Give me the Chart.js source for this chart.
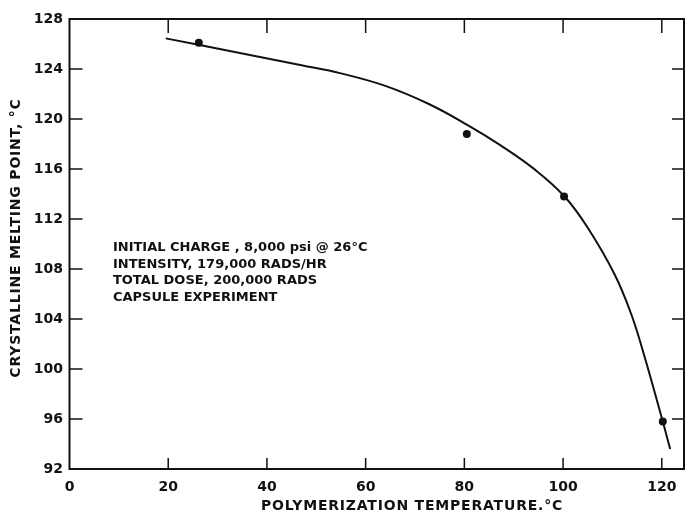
<!DOCTYPE html>
<html>
<head>
<meta charset="utf-8">
<script src="https://cdn.jsdelivr.net/npm/chart.js@4.4.0/dist/chart.umd.min.js"></script>
<style>
html,body{margin:0;padding:0;background:#fff;}
#contenedor{width:688px;height:515px;position:relative;}
</style>
</head>
<body>
<div id="contenedor"><canvas id="grafica"></canvas></div>
<script>
// puntos medidos
var puntosX = [26.2, 80.5, 100.2, 120.2];
var puntosY = [126.1, 118.8, 113.8, 95.8];
// curva trazada a mano
var curvaX = [19.5, 31.7, 47, 55, 64, 72.8, 80.5, 87.5, 94.3, 100.3, 105, 110.4, 113.8, 116.5, 120.2, 121.7];
var curvaY = [126.45, 125.5, 124.3, 123.65, 122.65, 121.2, 119.55, 117.85, 115.95, 113.8, 111.3, 107.6, 104.4, 101.0, 95.8, 93.6];
var ticksX = [0, 20, 40, 60, 80, 100, 120];
var ticksY = [92, 96, 100, 104, 108, 112, 116, 120, 124, 128];
var notas = ['INITIAL CHARGE , 8,000 psi @ 26°C', 'INTENSITY, 179,000 RADS/HR', 'TOTAL DOSE, 200,000 RADS', 'CAPSULE EXPERIMENT'];
var tituloX = 'POLYMERIZATION TEMPERATURE.°C';
var tituloY = 'CRYSTALLINE MELTING POINT, °C';

var fuente = "'DejaVu Sans', sans-serif";
var negro = '#111';

var puntos = puntosX.map(function(x, i){ return {x: x, y: puntosY[i]}; });
var curva = curvaX.map(function(x, i){ return {x: x, y: curvaY[i]}; });

// marco, marcas hacia adentro, notas y titulos
var marco = {
    id: 'marco',
    afterDraw: function(chart){
        var ctx = chart.ctx;
        var a = chart.chartArea;
        var sx = chart.scales.x, sy = chart.scales.y;
        ctx.save();
        ctx.strokeStyle = negro;
        ctx.lineWidth = 2;
        ctx.strokeRect(a.left, a.top, a.right - a.left, a.bottom - a.top);
        ctx.lineWidth = 1.5;
        ticksX.forEach(function(v){
            if(v == 0) return;
            var px = sx.getPixelForValue(v);
            ctx.beginPath();
            ctx.moveTo(px, a.bottom); ctx.lineTo(px, a.bottom - 11);
            ctx.moveTo(px, a.top); ctx.lineTo(px, a.top + 14);
            ctx.stroke();
        });
        ticksY.forEach(function(v){
            if(v == 92 || v == 128) return;
            var py = sy.getPixelForValue(v);
            ctx.beginPath();
            ctx.moveTo(a.left, py); ctx.lineTo(a.left + 13, py);
            ctx.moveTo(a.right, py); ctx.lineTo(a.right - 12, py);
            ctx.stroke();
        });
        ctx.fillStyle = negro;
        ctx.font = "bold 13px " + fuente;
        ctx.textBaseline = 'middle';
        ctx.textAlign = 'left';
        var x0 = sx.getPixelForValue(8.8);
        var y0 = sy.getPixelForValue(109.7);
        notas.forEach(function(t, i){
            ctx.fillText(t, x0, y0 + i * 16.5);
        });
        ctx.textAlign = 'center';
        ctx.font = "bold 14px " + fuente;
        ctx.letterSpacing = '0.8px';
        ctx.fillText(tituloX, 412, 506);
        ctx.translate(16, 238);
        ctx.rotate(-Math.PI / 2);
        ctx.fillText(tituloY, 0, 0);
        ctx.restore();
    }
};

var config = {
    type: 'scatter',
    data: {
        datasets: [{
            label: 'puntos',
            data: puntos,
            showLine: false,
            pointRadius: 4,
            pointBackgroundColor: negro,
            pointBorderColor: negro,
            pointBorderWidth: 0
        },{
            label: 'curva',
            data: curva,
            showLine: true,
            pointRadius: 0,
            borderColor: negro,
            borderWidth: 2,
            tension: 0.4
        }]
    },
    options: {
        responsive: true,
        maintainAspectRatio: false,
        animation: false,
        layout: {padding: {top: 19, right: 2, left: 0, bottom: 0}},
        scales: {
            x: {
                type: 'linear',
                min: 0,
                max: 124.5,
                afterBuildTicks: function(s){ s.ticks = ticksX.map(function(v){ return {value: v}; }); },
                afterFit: function(s){ s.height = 46; },
                grid: {display: false, drawTicks: false},
                border: {display: false},
                ticks: {color: negro, font: {family: fuente, size: 14, weight: 'bold'}, padding: 10, maxRotation: 0}
            },
            y: {
                type: 'linear',
                min: 92,
                max: 128,
                afterBuildTicks: function(s){ s.ticks = ticksY.map(function(v){ return {value: v}; }); },
                afterFit: function(s){ s.width = 69.5; },
                grid: {display: false, drawTicks: false},
                border: {display: false},
                ticks: {color: negro, font: {family: fuente, size: 14, weight: 'bold'}, padding: 6.5}
            }
        },
        plugins: {
            legend: {display: false},
            tooltip: {enabled: false}
        }
    },
    plugins: [marco]
};

var myChart = new Chart(document.getElementById('grafica'), config);
</script>
</body>
</html>
